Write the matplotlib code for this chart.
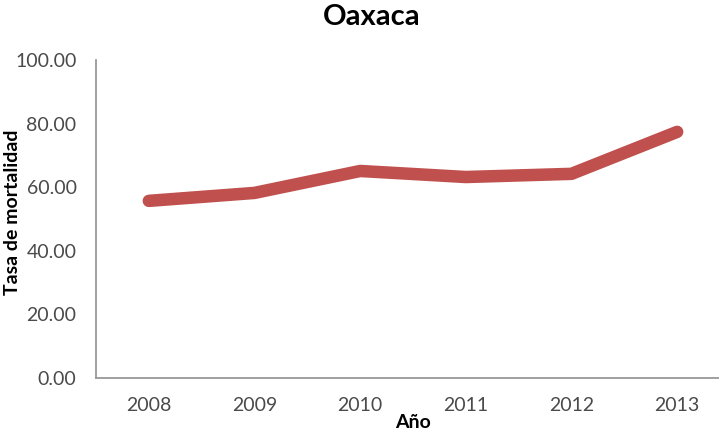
import matplotlib
matplotlib.use("Agg")
import matplotlib.pyplot as plt

years = ["2008", "2009", "2010", "2011", "2012", "2013"]
tasa = [55.7, 58.2, 65.1, 63.2, 64.2, 77.4]

plt.rcParams['font.family'] = ['Lato', 'DejaVu Sans']

fig = plt.figure(figsize=(7.19, 4.40), dpi=100)
ax = fig.add_axes([0.1335, 0.141, 0.8818, 0.7226])

ax.plot(range(len(years)), tasa, color='#C0504D', linewidth=9,
        solid_capstyle='round', solid_joinstyle='round')

ax.set_xlim(-0.5, len(years) - 0.5)
ax.set_ylim(0, 100)
ax.set_yticks([0, 20, 40, 60, 80, 100])
ax.set_yticklabels(["%.2f" % v for v in [0, 20, 40, 60, 80, 100]])
ax.set_xticks(range(len(years)))
ax.set_xticklabels(years)
ax.tick_params(length=0, labelsize=14, colors='#4a4a4a', pad=14)
ax.tick_params(axis='x', pad=14)

for s in ['top', 'right']:
    ax.spines[s].set_visible(False)
for s in ['left', 'bottom']:
    ax.spines[s].set_color('#999999')
    ax.spines[s].set_linewidth(1.3)

ax.set_xlabel("Año", fontsize=14, fontweight='bold', labelpad=0)
ax.set_ylabel("Tasa de mortalidad", fontsize=14, fontweight='bold')
ax.yaxis.set_label_coords(-0.118, 0.52)
fig.suptitle("Oaxaca", x=0.517, fontsize=21, fontweight='bold', y=0.99)

fig.savefig("out.png", dpi=100)
